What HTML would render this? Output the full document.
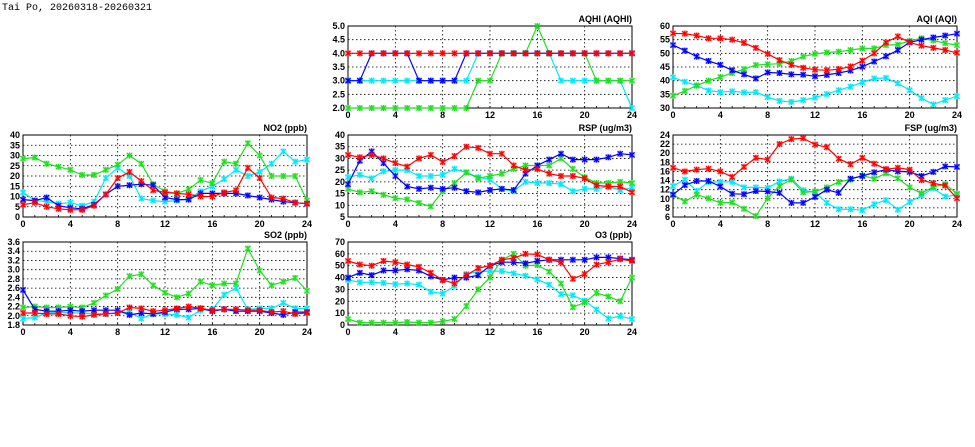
<!DOCTYPE html>
<html><head><meta charset="utf-8"><style>
html,body{margin:0;padding:0;background:#fff;width:975px;height:447px;overflow:hidden}
svg{position:absolute;left:0;top:0}
text{font-family:"Liberation Sans",sans-serif;font-size:9px;font-weight:bold;fill:#000}
</style></head><body>
<svg id="chart" width="975" height="447" viewBox="0 0 975 447">
<text x="2" y="10" style="font-size:10px;font-weight:normal;font-family:'Liberation Mono',monospace">Tai Po, 20260318-20260321</text>
</svg>
<script>
const hours = [0,1,2,3,4,5,6,7,8,9,10,11,12,13,14,15,16,17,18,19,20,21,22,23,24];
const xTicks = [0,4,8,12,16,20,24];
const seriesColors = ["#ff0000","#0000ff","#22dd22","#00e8f8"];

const aqhiRed   = [4,4,4,4,4,4,4,4,4,4,4,4,4,4,4,4,4,4,4,4,4,4,4,4,4];
const aqhiBlue  = [3,3,4,4,4,4,3,3,3,3,4,4,4,4,4,4,4,4,4,4,4,4,4,4,4];
const aqhiGreen = [2,2,2,2,2,2,2,2,2,2,2,3,3,4,4,4,5,4,4,4,4,3,3,3,3];
const aqhiCyan  = [3,3,3,3,3,3,3,3,3,3,3,4,4,4,4,4,4,4,3,3,3,3,3,3,2];
const aqhiTicks = [2.0,2.5,3.0,3.5,4.0,4.5,5.0];

const aqiRed   = [57.3,57.2,56.5,55.5,55.5,55,53.8,52,49.8,47.5,45.8,44.7,44,43.8,44.2,45.2,47.3,50,54,56.2,54,52.8,52,51.2,50.2];
const aqiBlue  = [53,51,48.8,47.2,45.8,43.8,42.3,40.8,43,42.8,42.3,42.2,41.6,42.1,42.8,43.7,45.1,47,48.9,51.2,54,55,55.8,56.5,57.2];
const aqiGreen = [34.5,36.2,38.2,40,41.3,42.8,44.2,45.7,46,46.2,47.2,48.8,49.8,50.3,50.6,51.2,51.8,51.8,53,53.2,54.6,55.5,54.7,53.7,53];
const aqiCyan  = [41.2,39.6,38.2,36.4,35.8,36.1,35.7,35.8,34,32.6,32.2,32.9,33.8,35.1,36.5,37.8,39.4,40.8,41,39,36.5,33.6,31.3,32.9,34.3];
const aqiTicks = [30,35,40,45,50,55,60];

const no2Red   = [6,7,5,4,3.5,3.5,5.5,11,19,22,17.5,13,12,11.5,11,10,10,12,13,24,19,9.5,9,7,6.5];
const no2Blue  = [8.5,8,9.5,5.5,4.5,4,6,11,15,15.5,16,15.5,9.5,8.5,8.5,11.5,11.5,11.5,11.5,10.5,9.5,8.5,7.5,7,6.5];
const no2Green = [28.5,29,26,24.5,23,20.5,20.5,23,25.5,30,26,16,12.5,11.5,13.5,18,16.5,27,26,36,30,20,20,20,8];
const no2Cyan  = [12,8,7.5,6.5,7,5.5,7.5,19,24,20,9,8,7.5,8,9,12.5,15,18.5,23,20,22,26,32,27,28];
const no2Ticks = [0,5,10,15,20,25,30,35,40];

const rspRed   = [31.5,30.5,31.5,30,28,26.5,30,31.5,28.5,31,35,34.5,32,32,27,25,25.5,23.5,22.5,22.5,21.5,18.5,18,18,15.5];
const rspBlue  = [19,29,33,28,22.5,18,17,17.5,17,17.5,16,15.5,16.5,17,16.5,23.5,27,29.5,32,29.5,29.5,29.5,30.5,32,31.5];
const rspGreen = [17,15.5,16,14.5,13,12.5,11,9.5,16,19.5,24,21.5,22.5,23.5,25.5,27,27,27,30,25.5,22,19.5,19.5,20,19.5];
const rspCyan  = [22,23,21.5,24.5,25,25,22.5,22.5,23,25.5,24,22,21,17,16,20,19.5,19.5,19,16,17,17,18,16.5,17.5];
const rspTicks = [5,10,15,20,25,30,35,40];

const fspRed   = [16.8,16,16.4,16.6,16,14.8,17,19,18.6,22,23.1,23.3,21.9,21.3,18.8,17.6,19,17.7,16.5,16.8,16.4,14.1,13.4,12.9,10.1];
const fspBlue  = [10.9,13,13.9,13.9,12.7,11.1,11,11.7,11.6,11.3,9.1,9.1,10.4,12,11.3,14.4,15,15.8,16.4,16,15.9,15,15.9,17.1,17];
const fspGreen = [10.9,9.4,10.9,10.1,9.1,9.2,7.8,6.2,10.1,12.8,14.2,11.4,11.6,12.5,13.7,14.2,15.1,14.4,15.6,14.5,12.5,11.2,12.6,13.2,11.1];
const fspCyan  = [12.8,14.2,11.7,13.7,13.7,13.7,12.5,12.5,12.4,13.8,14.4,11.9,11.4,9.1,7.7,7.7,7.5,8.8,9.7,7.6,9.3,10.7,12.3,10.5,10.8];
const fspTicks = [6,8,10,12,14,16,18,20,22,24];

const so2Red   = [2.06,2.06,2.04,2.04,2.0,1.98,2.02,2.04,2.06,2.18,2.16,2.1,2.12,2.16,2.2,2.16,2.12,2.14,2.14,2.12,2.12,2.08,2.1,2.04,2.06];
const so2Blue  = [2.56,2.14,2.1,2.1,2.12,2.1,2.12,2.12,2.12,2.02,2.06,2.04,2.08,2.14,2.14,2.16,2.1,2.14,2.1,2.1,2.1,2.06,2.02,2.08,2.08];
const so2Green = [2.18,2.2,2.18,2.18,2.2,2.18,2.28,2.44,2.58,2.86,2.9,2.66,2.5,2.4,2.48,2.74,2.66,2.7,2.7,3.46,2.98,2.66,2.74,2.82,2.54];
const so2Cyan  = [1.94,1.96,2.06,2.08,2.06,2.06,2.04,2.04,2.06,2.08,1.94,2.04,2.04,2.02,1.96,2.12,2.14,2.46,2.6,2.14,2.16,2.16,2.28,2.16,2.16];
const so2Ticks = [1.8,2.0,2.2,2.4,2.6,2.8,3.0,3.2,3.4,3.6];

const o3Red   = [54,51,50,54,53,51,49,44,38,35,42,48,50,55,56.5,60,59.5,55,53,39,43,51,53,55.5,54];
const o3Blue  = [40,44,42,46,46,47,46,41,38,40,40,42,50,53,53,52,54,55,55,55,55,57,57,56,55];
const o3Green = [5,2,2,2,2,2.5,2,2,3,5,16,30,40,55,60,50,50.5,45,35,15,19,27,24,20,40];
const o3Cyan  = [38,36,36,35.5,34.5,35,34,28,26.5,33,43,45,45.5,45.5,43.5,41.5,38.5,34,26,25,20.5,13,5.5,7.5,5];
const o3Ticks = [0,10,20,30,40,50,60,70];

const NS = "http://www.w3.org/2000/svg";
const svg = document.getElementById("chart");
function mk(tag, attrs, parent){
  const e = document.createElementNS(NS, tag);
  for (const k in attrs) e.setAttribute(k, attrs[k]);
  (parent||svg).appendChild(e);
  return e;
}

const panels = [
  {key:"aqhi", title:"AQHI (AQHI)", x0:348,x1:632,y0:26,y1:108, ticks:aqhiTicks, dec:1, series:[aqhiRed,aqhiBlue,aqhiGreen,aqhiCyan]},
  {key:"aqi",  title:"AQI (AQI)",   x0:673,x1:957,y0:26,y1:108, ticks:aqiTicks, dec:0, series:[aqiRed,aqiBlue,aqiGreen,aqiCyan]},
  {key:"no2",  title:"NO2 (ppb)",   x0:23,x1:307,y0:135,y1:217, ticks:no2Ticks, dec:0, series:[no2Red,no2Blue,no2Green,no2Cyan]},
  {key:"rsp",  title:"RSP (ug/m3)", x0:348,x1:632,y0:135,y1:217, ticks:rspTicks, dec:0, series:[rspRed,rspBlue,rspGreen,rspCyan]},
  {key:"fsp",  title:"FSP (ug/m3)", x0:673,x1:957,y0:135,y1:217, ticks:fspTicks, dec:0, series:[fspRed,fspBlue,fspGreen,fspCyan]},
  {key:"so2",  title:"SO2 (ppb)",   x0:23,x1:307,y0:242,y1:325, ticks:so2Ticks, dec:1, series:[so2Red,so2Blue,so2Green,so2Cyan]},
  {key:"o3",   title:"O3 (ppb)",    x0:348,x1:632,y0:242,y1:325, ticks:o3Ticks, dec:0, series:[o3Red,o3Blue,o3Green,o3Cyan]}
];
const seriesNames = ["red","blue","green","cyan"];

panels.forEach(p => {
  const g = mk("g", {});
  
  
  const lo = p.ticks[0], hi = p.ticks[p.ticks.length-1];
  const xs = h => p.x0 + (h - hours[0]) / (hours[hours.length-1] - hours[0]) * (p.x1 - p.x0);
  const ys = v => p.y1 - (v - lo) / (hi - lo) * (p.y1 - p.y0);

  p.ticks.forEach(t => {
    const y = ys(t);
    if (t !== lo && t !== hi) {
      const gl = mk("line", {x1:p.x0,x2:p.x1,y1:y,y2:y,stroke:"#000","stroke-width":0.8,"stroke-dasharray":"1.5,2.5"}, g);
      
      
    }
    const tl = mk("text", {x:p.x0-3,y:y+3,"text-anchor":"end"}, g);
    tl.textContent = t.toFixed(p.dec);
    
    
  });
  hours.forEach(h => {
    const x = xs(h);
    const mt = mk("line", {x1:x,x2:x,y1:p.y1,y2:p.y1-2,stroke:"#000","stroke-width":0.8}, g);
    
    
  });
  xTicks.forEach(h => {
    const x = xs(h);
    if (h !== xTicks[0] && h !== xTicks[xTicks.length-1]) {
      const gl = mk("line", {x1:x,x2:x,y1:p.y0,y2:p.y1,stroke:"#000","stroke-width":0.8,"stroke-dasharray":"1.5,2.5"}, g);
      
      
    }
    const tl = mk("text", {x:x,y:p.y1+10,"text-anchor":"middle"}, g);
    tl.textContent = String(h);
    
    
  });
  const fr = mk("rect", {x:p.x0,y:p.y0,width:p.x1-p.x0,height:p.y1-p.y0,fill:"none",stroke:"#000","stroke-width":1}, g);
  
  
  const tt = mk("text", {x:p.x1,y:p.y0-4,"text-anchor":"end"}, g);
  tt.textContent = p.title;
  
  

  const order = [3,2,1,0];
  order.forEach(si => {
    const vals = p.series[si];
    const col = seriesColors[si];
    const pts = vals.map((v,i) => xs(hours[i]).toFixed(1) + "," + ys(v).toFixed(1)).join(" ");
    const pl = mk("polyline", {points:pts,fill:"none",stroke:col,"stroke-width":1.2}, g);
    
    
    vals.forEach((v,i) => {
      const x = xs(hours[i]), y = ys(v);
      const bg = mk("rect", {x:x-3,y:y-3,width:6,height:6,fill:col,"fill-opacity":0.3}, g);
      
      
      const mkr = mk("path", {d:`M${x-2.5},${y-2.5}L${x+2.5},${y+2.5}M${x-2.5},${y+2.5}L${x+2.5},${y-2.5}M${x},${y-3}L${x},${y+3}`,stroke:col,"stroke-width":1.2,fill:"none"}, g);
      
      
    });
  });
});
</script>
</body></html>
